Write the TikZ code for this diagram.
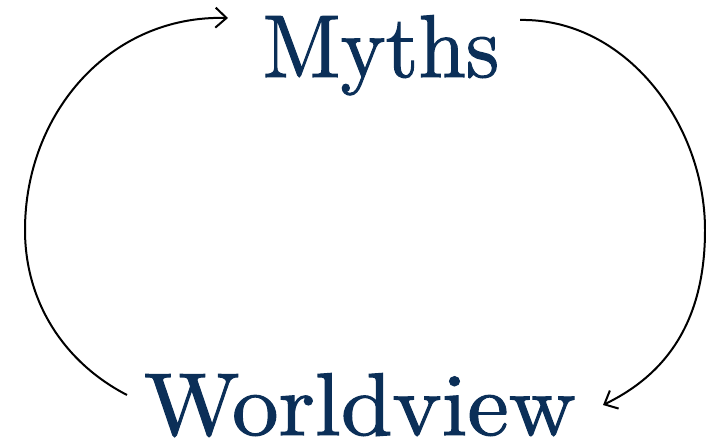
\documentclass[tikz,border=0pt]{standalone}
\usetikzlibrary{arrows.meta,calc}
\definecolor{mythblue}{HTML}{0B2F58}
\font\mythfont="[lmroman10-regular.otf]:embolden=1.2" at 89pt
\tikzset{
  bigword/.style={text=mythblue, inner sep=0pt, anchor=base, font=\mythfont, transform shape},
  cycarrow/.style={draw=black, line width=2pt, -{Straight Barb[length=11pt,width=20pt,line width=2pt]}}
}
\begin{document}
\begin{tikzpicture}[x=1pt,y=1pt]
\useasboundingbox (0,0) rectangle (706,443);
\node[bigword, xscale=0.955] (myths) at (381,366) {Myths};
\node[bigword, xscale=1.045] (world) at (360,8) {Worldview};
\coordinate (ls) at (127,48);
\coordinate (le) at (228,425);
\coordinate (rs) at (520,423);
\coordinate (re) at (603,38);
\draw[cycarrow] (ls) .. controls (65,80) and (25,140) .. (25,213) .. controls (25,330) and (110,428) .. (le);
\draw[cycarrow] (rs) .. controls (625,425) and (705,320) .. (705,213) .. controls (705,120) and (665,68) .. (re);
\end{tikzpicture}
\end{document}
